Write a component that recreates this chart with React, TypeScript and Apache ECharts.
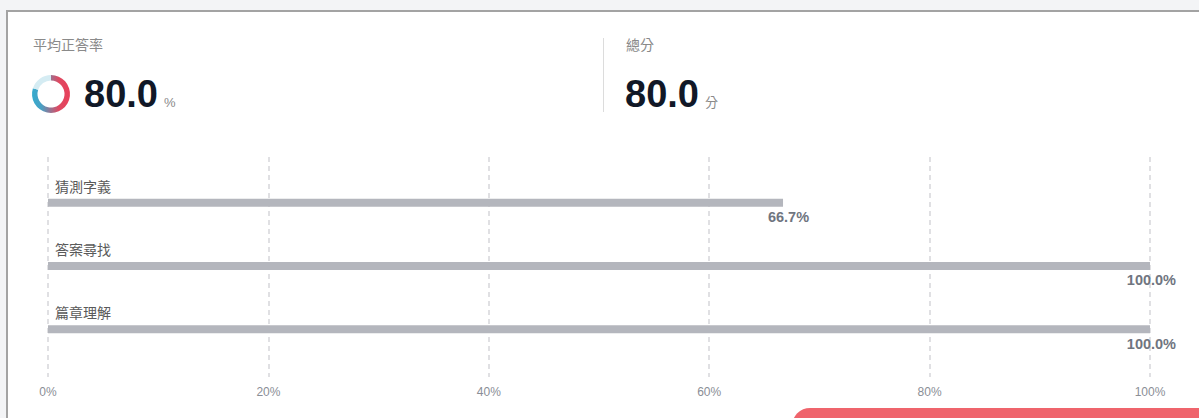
import React, { useEffect, useRef } from "react";
import * as echarts from "echarts";

const categories = ["猜測字義", "答案尋找", "篇章理解"];
const correctRates = [66.7, 100, 100];
const axisTicks = [0, 20, 40, 60, 80, 100];
const averageRate = 80.0;
const totalScore = 80.0;
const summaryTitles = ["平均正答率", "總分"];
const summaryUnits = ["%", "分"];

const FONT = "'Liberation Sans', Arial, 'Noto Sans CJK TC', sans-serif";

export default function App() {
  const ref = useRef<HTMLDivElement>(null);
  useEffect(() => {
    if (!ref.current) return;
    const chart = echarts.init(ref.current, null, { renderer: "svg" });
    const option: any = {
      animation: false,
      backgroundColor: "#f3f4f6",
      textStyle: { fontFamily: FONT },
      graphic: [
        {
          type: "rect",
          z: -10,
          shape: { x: 7, y: 11, width: 1300, height: 500 },
          style: { fill: "#ffffff", stroke: "#a3a3a3", lineWidth: 2 },
        },
        {
          type: "text",
          style: { text: summaryTitles[0], x: 33, y: 45, fontSize: 14, fontFamily: FONT, fill: "#8a8a8a", verticalAlign: "middle" },
        },
        {
          type: "text",
          style: { text: averageRate.toFixed(1), x: 84, y: 94, fontSize: 38, fontWeight: "bold", fontFamily: FONT, fill: "#111827", verticalAlign: "middle" },
        },
        {
          type: "text",
          style: { text: summaryUnits[0], x: 164, y: 102, fontSize: 13, fontFamily: FONT, fill: "#8a8a8a", verticalAlign: "middle" },
        },
        {
          type: "line",
          shape: { x1: 603.5, y1: 38, x2: 603.5, y2: 112 },
          style: { stroke: "#dcdcdc", lineWidth: 1 },
        },
        {
          type: "text",
          style: { text: summaryTitles[1], x: 626, y: 45, fontSize: 14, fontFamily: FONT, fill: "#8a8a8a", verticalAlign: "middle" },
        },
        {
          type: "text",
          style: { text: totalScore.toFixed(1), x: 625, y: 94, fontSize: 38, fontWeight: "bold", fontFamily: FONT, fill: "#111827", verticalAlign: "middle" },
        },
        {
          type: "text",
          style: { text: summaryUnits[1], x: 705, y: 102, fontSize: 13, fontFamily: FONT, fill: "#8a8a8a", verticalAlign: "middle" },
        },
        {
          type: "rect",
          shape: { x: 792, y: 408, width: 450, height: 60, r: [18, 0, 0, 0] },
          style: { fill: "#ef646c" },
        },
      ],
      grid: [
        { left: 48, right: 49, top: 157, bottom: 41 },
        { left: 48, right: 49, top: 171, bottom: 57 },
      ],
      xAxis: [
        {
          type: "value",
          gridIndex: 0,
          min: axisTicks[0],
          max: axisTicks[axisTicks.length - 1],
          interval: axisTicks[1] - axisTicks[0],
          axisLine: { show: false },
          axisTick: { show: false },
          axisLabel: { formatter: "{value}%", color: "#8a8e96", fontSize: 12, margin: 9 },
          splitLine: { show: true, lineStyle: { type: [5, 4], color: "#d6d6da", width: 1.5 } },
        },
        {
          type: "value",
          gridIndex: 1,
          min: 0,
          max: 100,
          show: false,
        },
      ],
      yAxis: [
        { type: "category", gridIndex: 0, data: categories, show: false, inverse: true },
        { type: "category", gridIndex: 1, data: categories, show: false, inverse: true },
      ],
      series: [
        {
          type: "bar",
          xAxisIndex: 1,
          yAxisIndex: 1,
          data: correctRates,
          barWidth: 8,
          itemStyle: { color: "#b4b6bd" },
          label: {
            show: true,
            position: ["100%", "100%"],
            offset: [26, 3],
            align: "right",
            verticalAlign: "top",
            formatter: (p: any) => p.value.toFixed(1) + "%",
            fontSize: 14.5,
            fontWeight: "bold",
            color: "#70757f",
          },
          z: 3,
        },
        {
          type: "bar",
          xAxisIndex: 1,
          yAxisIndex: 1,
          data: correctRates,
          barWidth: 8,
          barGap: "-100%",
          itemStyle: { color: "rgba(0,0,0,0)" },
          label: {
            show: true,
            position: [7, -5],
            align: "left",
            verticalAlign: "bottom",
            formatter: (p: any) => categories[p.dataIndex],
            fontSize: 14,
            color: "#5a5a5a",
          },
          z: 4,
        },
        {
          type: "pie",
          center: [51, 94],
          radius: [13.5, 19],
          startAngle: 90,
          clockwise: true,
          silent: true,
          label: { show: false },
          labelLine: { show: false },
          data: [
            {
              value: averageRate,
              itemStyle: {
                color: new echarts.graphic.LinearGradient(1, 0, 0, 0, [
                  { offset: 0, color: "#e8405a" },
                  { offset: 0.3, color: "#de4a62" },
                  { offset: 0.75, color: "#4aa0c4" },
                  { offset: 1, color: "#34abce" },
                ]),
              },
            },
            { value: 100 - averageRate, itemStyle: { color: "#d5ecf3" } },
          ],
        },
      ],
    };
    chart.setOption(option);
    return () => chart.dispose();
  }, []);
  return (
    <div
      ref={ref}
      style={{ position: "absolute", left: 0, top: 0, width: 1199, height: 418 }}
    />
  );
}
